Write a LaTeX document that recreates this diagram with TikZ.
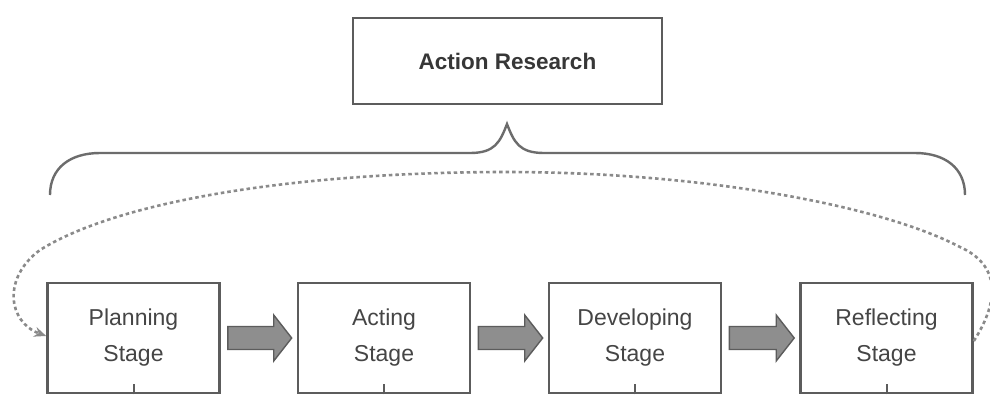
\documentclass[tikz,border=0pt]{standalone}
\usepackage{fontspec}
\setmainfont{Liberation Sans}
\usetikzlibrary{arrows.meta}
\definecolor{bordc}{HTML}{5C5C5C}
\definecolor{txtc}{HTML}{454545}
\definecolor{arrfill}{HTML}{8E8E8E}
\definecolor{dotc}{HTML}{8A8A8A}
\begin{document}
\begin{tikzpicture}[x=1pt,y=-1pt,
  stagebox/.style={draw=bordc,line width=2.6pt,fill=white,minimum width=172pt,minimum height=110pt,
    align=center,text=txtc,font=\fontsize{23}{36}\selectfont,inner sep=0pt},
  titlebox/.style={draw=bordc,line width=2.6pt,minimum width=309pt,minimum height=86pt,
    text=txtc!80!black,font=\fontsize{22.5}{26}\selectfont\bfseries,inner sep=0pt},
  blockarrow/.style={fill=arrfill,draw=bordc,line width=1.4pt,line join=miter},
  bracel/.style={draw=bordc!90,line width=2.4pt},
  loopline/.style={draw=dotc,line width=2.6pt,dash pattern=on 3.5pt off 3pt,-{Stealth[length=12pt,width=10pt]}},
  stub/.style={draw=bordc,line width=2pt}]
\useasboundingbox (0,0) rectangle (990,400);
\fill[white] (0,0) rectangle (990,400);
% title
\node[titlebox] (ar) at (507.5,61) {Action Research};
% brace
\coordinate (bl) at (50,195);
\coordinate (br) at (965,195);
\coordinate (btip) at (507,124);
\draw[bracel] (bl) .. controls (50,168) and (70,153) .. (100,153) -- (470,153)
  .. controls (495,153) and (500,142) .. (btip)
  .. controls (514,142) and (519,153) .. (544,153) -- (915,153)
  .. controls (945,153) and (965,168) .. (br);
% stages
\node[stagebox] (p) at (133.5,338) {Planning\\Stage};
\node[stagebox] (a) at (384,338) {Acting\\Stage};
\node[stagebox] (d) at (635,338) {Developing\\Stage};
\node[stagebox] (r) at (886.5,338) {Reflecting\\Stage};
% block arrows
\foreach \s/\t in {p/a,a/d,d/r}{
  \path (\s.east) ++(7,0) coordinate (s0) (\t.west) ++(-5,0) coordinate (t0);
  \draw[blockarrow] ([yshift=-11.5]s0) -- ([xshift=-18,yshift=-11.5]t0) -- ([xshift=-18,yshift=-23]t0)
     -- (t0) -- ([xshift=-18,yshift=23]t0) -- ([xshift=-18,yshift=11.5]t0) -- ([yshift=11.5]s0) -- cycle;
}
% stubs below
\foreach \n in {p,a,d,r}{
  \coordinate (\n b) at ([yshift=10]\n.south);
  \draw[stub] (\n.south) -- (\n b);
}
% loop back
\draw[loopline] ([yshift=-3]r.east) .. controls (1000,300) and (1000,265) .. (960,247)
  .. controls (880,205) and (700,172) .. (507,172)
  .. controls (300,172) and (120,200) .. (40,250)
  .. controls (2,278) and (8,322) .. ([yshift=2]p.west);
\end{tikzpicture}
\end{document}
